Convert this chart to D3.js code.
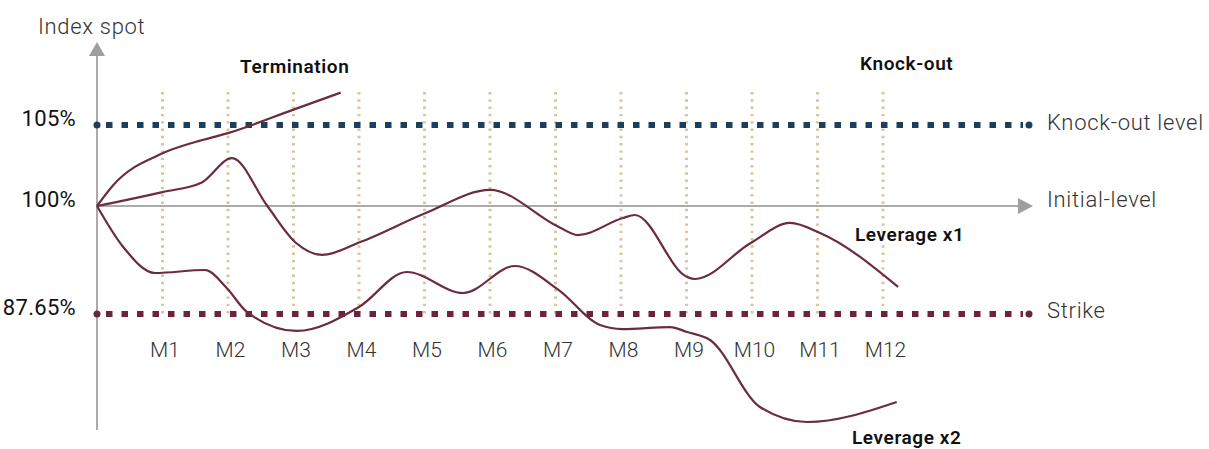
<!DOCTYPE html>
<html lang="en">
<head>
    <meta charset="UTF-8">
    <title>Knock-out / leverage</title>
    <style>
        body {
            margin: 0;
            background: #fff;
        }

        svg text {
            font-family: Roboto, "Open Sans", "DejaVu Sans", sans-serif;
        }
    </style>
</head>
<body>
<script src="https://cdnjs.cloudflare.com/ajax/libs/d3/7.8.5/d3.min.js"></script>
<script>
    const width = 1209;
    const height = 449;

    // month ticks
    const monthIndex = [1, 2, 3, 4, 5, 6, 7, 8, 9, 10, 11, 12];
    const monthLabels = ['M1', 'M2', 'M3', 'M4', 'M5', 'M6', 'M7', 'M8', 'M9', 'M10', 'M11', 'M12'];

    // levels (in % of initial index)
    const levelValues = [105, 100, 87.65];
    const levelLabels = ['105%', '100%', '87.65%'];
    const knockOutLevel = 105;
    const initialLevel = 100;
    const strikeLevel = 87.65;

    // paths: [month, index %]
    const termination = [
        [0, 100], [0.25, 101.3], [1, 103.25], [1.5, 103.95], [2, 104.5], [3, 105.95], [3.72, 107]
    ];
    const leverage1 = [
        [0, 100], [1, 100.86], [1.6, 101.45], [2.06, 102.96], [2.6, 100], [3.04, 95.77], [3.44, 94.4],
        [4.02, 95.88], [5.02, 99.2], [6, 100.99], [7.05, 97.6], [7.34, 96.68], [8.03, 98.63],
        [8.21, 98.97], [9.01, 91.88], [9.13, 91.65], [9.98, 95.77], [10.58, 98.06], [11.04, 96.91],
        [12.23, 90.74]
    ];
    const leverage2 = [
        [0, 100], [0.4, 95.31], [0.885, 92.34], [1.65, 92.68], [1.98, 90.62], [2.29, 87.88],
        [3.05, 85.71], [4, 88.45], [4.73, 92.45], [5.59, 90.05], [6.38, 93.14], [7.05, 90.39],
        [7.68, 86.39], [8.02, 85.93], [8.75, 86.16], [9.01, 85.59], [9.36, 84.68], [10.12, 77.02],
        [10.84, 75.3], [12.21, 77.59]
    ];

    const COLORS = {
        axis: '#8f8f8f',
        arrow: '#a19ea1',
        knockOut: '#1f3e5c',
        strike: '#6b2438',
        grid: '#d8c69c',
        path: '#6b2c3e',
        text: '#111',
        lightText: '#333'
    };

    const ORIGIN = {x: 97, y: 206};
    const X_AXIS_END = 1018;
    const LEVEL_END = 1029;

    const x = d3.scaleLinear().domain([0, 12]).range([ORIGIN.x, 883]);
    // piecewise: the sketch is not to scale between levels
    const y = d3.scaleLinear().domain([strikeLevel, initialLevel, knockOutLevel]).range([314, 206, 125]);

    const svg = d3.select('body')
        .append('svg')
        .attr('width', width)
        .attr('height', height);

    // vertical month grid
    svg.append('g')
        .selectAll('line')
        .data(monthIndex)
        .enter()
        .append('line')
        .attr('x1', d => x(d))
        .attr('x2', d => x(d))
        .attr('y1', 92)
        .attr('y2', y(strikeLevel))
        .attr('stroke', COLORS.grid)
        .attr('stroke-width', 3)
        .attr('stroke-dasharray', '2.4 4.9');

    // axes lines + arrows
    svg.append('line')
        .attr('x1', ORIGIN.x).attr('x2', ORIGIN.x)
        .attr('y1', 430).attr('y2', 55)
        .attr('stroke', COLORS.axis).attr('stroke-width', 1.5);
    svg.append('path')
        .attr('d', `M${ORIGIN.x - 8},56 L${ORIGIN.x},42 L${ORIGIN.x + 8},56 Z`)
        .attr('fill', COLORS.arrow);
    svg.append('line')
        .attr('x1', ORIGIN.x).attr('x2', X_AXIS_END)
        .attr('y1', y(initialLevel)).attr('y2', y(initialLevel))
        .attr('stroke', COLORS.axis).attr('stroke-width', 1.5);
    svg.append('path')
        .attr('d', `M${X_AXIS_END},${y(initialLevel) - 8} L${X_AXIS_END + 15},${y(initialLevel)} L${X_AXIS_END},${y(initialLevel) + 8} Z`)
        .attr('fill', COLORS.arrow);

    // dotted levels
    function drawLevel(value, color) {
        const g = svg.append('g');
        g.append('line')
            .attr('x1', ORIGIN.x + 9).attr('x2', LEVEL_END - 6)
            .attr('y1', y(value)).attr('y2', y(value))
            .attr('stroke', color)
            .attr('stroke-width', 6)
            .attr('stroke-dasharray', '6.5 9');
        g.selectAll('circle')
            .data([ORIGIN.x, LEVEL_END])
            .enter()
            .append('circle')
            .attr('cx', d => d)
            .attr('cy', y(value))
            .attr('r', 3.5)
            .attr('fill', color);
    }

    drawLevel(knockOutLevel, COLORS.knockOut);
    drawLevel(strikeLevel, COLORS.strike);

    // paths
    const line = d3.line()
        .x(d => x(d[0]))
        .y(d => y(d[1]))
        .curve(d3.curveMonotoneX);

    svg.append('g')
        .selectAll('path')
        .data([termination, leverage1, leverage2])
        .enter()
        .append('path')
        .attr('d', line)
        .attr('fill', 'none')
        .attr('stroke', COLORS.path)
        .attr('stroke-width', 2.2);

    // month labels
    const xAxis = svg.append('g')
        .attr('transform', `translate(2, ${y(strikeLevel)})`)
        .call(d3.axisBottom(x)
            .tickValues(monthIndex)
            .tickFormat((d, i) => monthLabels[i])
            .tickSize(0)
            .tickPadding(28));
    xAxis.select('.domain').remove();
    xAxis.selectAll('text')
        .attr('fill', COLORS.lightText)
        .style('font-size', '21px')
        .style('font-weight', 300);

    // level labels
    const yAxis = svg.append('g')
        .attr('transform', `translate(${ORIGIN.x}, 0)`)
        .call(d3.axisLeft(y)
            .tickValues(levelValues)
            .tickFormat((d, i) => levelLabels[i])
            .tickSize(0)
            .tickPadding(21));
    yAxis.select('.domain').remove();
    yAxis.selectAll('text')
        .attr('fill', COLORS.text)
        .attr('dy', '0.02em')
        .style('font-size', '22px')
        .style('letter-spacing', '0.3px');

    // annotations
    const notes = [
        {text: 'Index spot', x: 38, y: 34, bold: false},
        {text: 'Termination', x: 240, y: 73, bold: true},
        {text: 'Knock-out', x: 860, y: 70, bold: true},
        {text: 'Knock-out level', x: 1047, y: y(knockOutLevel) + 5, bold: false},
        {text: 'Initial-level', x: 1047, y: y(initialLevel) + 1, bold: false},
        {text: 'Leverage x1', x: 855, y: 241, bold: true},
        {text: 'Strike', x: 1047, y: y(strikeLevel) + 4, bold: false},
        {text: 'Leverage x2', x: 852, y: 444, bold: true}
    ];

    svg.append('g')
        .selectAll('text')
        .data(notes)
        .enter()
        .append('text')
        .attr('x', d => d.x)
        .attr('y', d => d.y)
        .attr('fill', d => d.bold ? COLORS.text : COLORS.lightText)
        .style('font-size', d => d.bold ? '19px' : '22px')
        .style('font-weight', d => d.bold ? 600 : 300)
        .style('letter-spacing', d => d.bold ? '0.6px' : '0.7px')
        .text(d => d.text);
</script>
</body>
</html>
